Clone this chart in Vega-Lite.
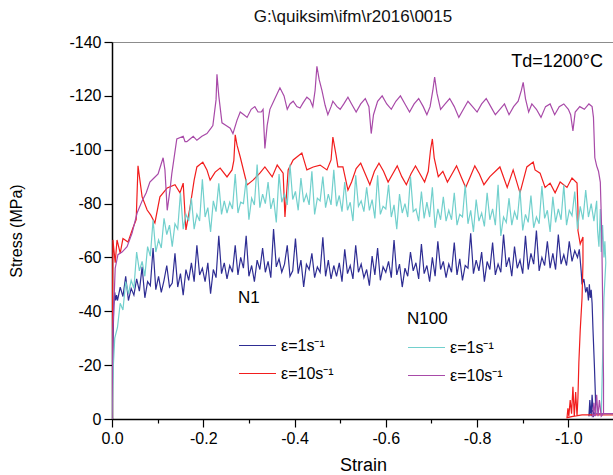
{
  "$schema": "https://vega.github.io/schema/vega-lite/v6.json",
  "width": 502,
  "height": 377,
  "autosize": "none",
  "padding": {"left": 112, "top": 42, "right": 0, "bottom": 56},
  "background": "white",
  "title": {"text": "G:\\quiksim\\ifm\\r2016\\0015", "fontSize": 17, "font": "Liberation Sans", "fontWeight": "normal", "color": "#111111", "offset": 8, "dx": -10},
  "config": {"view": {"stroke": "#8c8c8c", "strokeWidth": 1}, "font": "Liberation Sans"},
  "datasets": {
    "n1": [
      {"r":"1","x":0,"y":0},{"r":"1","x":-0.002,"y":-28},{"r":"1","x":-0.004,"y":-42},{"r":"1","x":-0.006,"y":-47},{"r":"1","x":-0.008,"y":-44},{"r":"1","x":-0.010,"y":-46},
      {"r":"1","x":-0.012,"y":-44},{"r":"1","x":-0.018,"y":-49},{"r":"1","x":-0.024,"y":-45.5},{"r":"1","x":-0.030,"y":-53},{"r":"1","x":-0.036,"y":-44},{"r":"1","x":-0.042,"y":-48.5},{"r":"1","x":-0.048,"y":-46},{"r":"1","x":-0.054,"y":-52},{"r":"1","x":-0.060,"y":-47.5},{"r":"1","x":-0.066,"y":-56.5},
      {"r":"1","x":-0.072,"y":-45},{"r":"1","x":-0.078,"y":-51},{"r":"1","x":-0.084,"y":-49.5},{"r":"1","x":-0.090,"y":-63.5},{"r":"1","x":-0.096,"y":-48},{"r":"1","x":-0.102,"y":-53},{"r":"1","x":-0.108,"y":-47},{"r":"1","x":-0.114,"y":-51.5},{"r":"1","x":-0.120,"y":-57},{"r":"1","x":-0.126,"y":-49},
      {"r":"1","x":-0.132,"y":-50.5},{"r":"1","x":-0.138,"y":-61.5},{"r":"1","x":-0.144,"y":-49},{"r":"1","x":-0.150,"y":-54},{"r":"1","x":-0.156,"y":-46},{"r":"1","x":-0.162,"y":-55.5},{"r":"1","x":-0.168,"y":-51.5},{"r":"1","x":-0.174,"y":-58},{"r":"1","x":-0.180,"y":-51},{"r":"1","x":-0.186,"y":-64.5},
      {"r":"1","x":-0.192,"y":-53.5},{"r":"1","x":-0.198,"y":-56},{"r":"1","x":-0.204,"y":-51},{"r":"1","x":-0.210,"y":-58},{"r":"1","x":-0.216,"y":-46.5},{"r":"1","x":-0.222,"y":-55.5},{"r":"1","x":-0.228,"y":-52.5},{"r":"1","x":-0.234,"y":-68},{"r":"1","x":-0.240,"y":-54},{"r":"1","x":-0.246,"y":-58},
      {"r":"1","x":-0.252,"y":-52},{"r":"1","x":-0.258,"y":-57},{"r":"1","x":-0.264,"y":-54.5},{"r":"1","x":-0.270,"y":-64.5},{"r":"1","x":-0.276,"y":-53.5},{"r":"1","x":-0.282,"y":-60},{"r":"1","x":-0.288,"y":-56},{"r":"1","x":-0.294,"y":-68},{"r":"1","x":-0.300,"y":-53},{"r":"1","x":-0.306,"y":-57},
      {"r":"1","x":-0.312,"y":-51},{"r":"1","x":-0.318,"y":-59},{"r":"1","x":-0.324,"y":-55.5},{"r":"1","x":-0.330,"y":-63.5},{"r":"1","x":-0.336,"y":-54.5},{"r":"1","x":-0.342,"y":-58.5},{"r":"1","x":-0.348,"y":-52.5},{"r":"1","x":-0.354,"y":-70.5},{"r":"1","x":-0.360,"y":-56.5},{"r":"1","x":-0.366,"y":-59.5},
      {"r":"1","x":-0.372,"y":-54.5},{"r":"1","x":-0.378,"y":-57.5},{"r":"1","x":-0.384,"y":-64.5},{"r":"1","x":-0.390,"y":-53},{"r":"1","x":-0.396,"y":-55},{"r":"1","x":-0.402,"y":-67},{"r":"1","x":-0.408,"y":-54},{"r":"1","x":-0.414,"y":-59},{"r":"1","x":-0.420,"y":-49},{"r":"1","x":-0.426,"y":-57.5},
      {"r":"1","x":-0.432,"y":-55.5},{"r":"1","x":-0.438,"y":-61.5},{"r":"1","x":-0.444,"y":-52.5},{"r":"1","x":-0.450,"y":-56.5},{"r":"1","x":-0.456,"y":-54.5},{"r":"1","x":-0.462,"y":-67.5},{"r":"1","x":-0.468,"y":-53},{"r":"1","x":-0.474,"y":-59},{"r":"1","x":-0.480,"y":-52},{"r":"1","x":-0.486,"y":-57},
      {"r":"1","x":-0.492,"y":-53},{"r":"1","x":-0.498,"y":-58},{"r":"1","x":-0.504,"y":-51},{"r":"1","x":-0.510,"y":-63},{"r":"1","x":-0.516,"y":-54},{"r":"1","x":-0.522,"y":-57},{"r":"1","x":-0.528,"y":-52},{"r":"1","x":-0.534,"y":-64.5},{"r":"1","x":-0.540,"y":-54.5},{"r":"1","x":-0.546,"y":-57.5},
      {"r":"1","x":-0.552,"y":-52.5},{"r":"1","x":-0.558,"y":-55.5},{"r":"1","x":-0.564,"y":-49.5},{"r":"1","x":-0.570,"y":-60.5},{"r":"1","x":-0.576,"y":-53.5},{"r":"1","x":-0.582,"y":-63.5},{"r":"1","x":-0.588,"y":-51.5},{"r":"1","x":-0.594,"y":-56.5},{"r":"1","x":-0.600,"y":-54.5},{"r":"1","x":-0.606,"y":-58.5},
      {"r":"1","x":-0.612,"y":-52.5},{"r":"1","x":-0.618,"y":-66.5},{"r":"1","x":-0.624,"y":-53.5},{"r":"1","x":-0.630,"y":-57.5},{"r":"1","x":-0.636,"y":-49},{"r":"1","x":-0.642,"y":-56},{"r":"1","x":-0.648,"y":-53},{"r":"1","x":-0.654,"y":-62},{"r":"1","x":-0.660,"y":-55},{"r":"1","x":-0.666,"y":-58},
      {"r":"1","x":-0.672,"y":-52},{"r":"1","x":-0.678,"y":-65},{"r":"1","x":-0.684,"y":-54},{"r":"1","x":-0.690,"y":-57},{"r":"1","x":-0.696,"y":-51},{"r":"1","x":-0.702,"y":-60},{"r":"1","x":-0.708,"y":-53},{"r":"1","x":-0.714,"y":-66},{"r":"1","x":-0.720,"y":-55.5},{"r":"1","x":-0.726,"y":-58.5},
      {"r":"1","x":-0.732,"y":-52.5},{"r":"1","x":-0.738,"y":-57.5},{"r":"1","x":-0.744,"y":-54.5},{"r":"1","x":-0.750,"y":-65.5},{"r":"1","x":-0.756,"y":-53.5},{"r":"1","x":-0.762,"y":-59.5},{"r":"1","x":-0.768,"y":-51.5},{"r":"1","x":-0.774,"y":-57},{"r":"1","x":-0.780,"y":-56},{"r":"1","x":-0.786,"y":-69},
      {"r":"1","x":-0.792,"y":-54},{"r":"1","x":-0.798,"y":-59},{"r":"1","x":-0.804,"y":-55},{"r":"1","x":-0.810,"y":-62},{"r":"1","x":-0.816,"y":-51},{"r":"1","x":-0.822,"y":-58.5},{"r":"1","x":-0.828,"y":-55.5},{"r":"1","x":-0.834,"y":-65.5},{"r":"1","x":-0.840,"y":-53.5},{"r":"1","x":-0.846,"y":-57.5},
      {"r":"1","x":-0.852,"y":-54.5},{"r":"1","x":-0.858,"y":-68.5},{"r":"1","x":-0.864,"y":-56.5},{"r":"1","x":-0.870,"y":-60},{"r":"1","x":-0.876,"y":-53},{"r":"1","x":-0.882,"y":-64},{"r":"1","x":-0.888,"y":-56},{"r":"1","x":-0.894,"y":-59},{"r":"1","x":-0.900,"y":-54},{"r":"1","x":-0.906,"y":-68},
      {"r":"1","x":-0.912,"y":-55.5},{"r":"1","x":-0.918,"y":-61.5},{"r":"1","x":-0.924,"y":-57.5},{"r":"1","x":-0.930,"y":-70},{"r":"1","x":-0.936,"y":-55},{"r":"1","x":-0.942,"y":-60},{"r":"1","x":-0.948,"y":-57},{"r":"1","x":-0.954,"y":-66},{"r":"1","x":-0.960,"y":-56},{"r":"1","x":-0.966,"y":-61.5},
      {"r":"1","x":-0.972,"y":-55.5},{"r":"1","x":-0.978,"y":-68.5},{"r":"1","x":-0.984,"y":-57.5},{"r":"1","x":-0.990,"y":-61},{"r":"1","x":-0.996,"y":-57},{"r":"1","x":-1.002,"y":-66},{"r":"1","x":-1.008,"y":-58.5},{"r":"1","x":-1.014,"y":-62.5},{"r":"1","x":-1.020,"y":-60},
      {"r":"1","x":-1.024,"y":-63},{"r":"1","x":-1.028,"y":-55},{"r":"1","x":-1.030,"y":-50},{"r":"1","x":-1.034,"y":-52},{"r":"1","x":-1.038,"y":-47},{"r":"1","x":-1.041,"y":-49},{"r":"1","x":-1.044,"y":-44},{"r":"1","x":-1.046,"y":-50},{"r":"1","x":-1.048,"y":-45},{"r":"1","x":-1.050,"y":-48},{"r":"1","x":-1.052,"y":-43},{"r":"1","x":-1.054,"y":-33},{"r":"1","x":-1.057,"y":-20},{"r":"1","x":-1.059,"y":-10},{"r":"1","x":-1.060,"y":-2},{"r":"1","x":-1.055,"y":-1},{"r":"1","x":-1.052,"y":-9},{"r":"1","x":-1.050,"y":-1},{"r":"1","x":-1.047,"y":-7},{"r":"1","x":-1.045,"y":-1},{"r":"1","x":-1.048,"y":-4},{"r":"1","x":-1.060,"y":-1.5},

      {"r":"10","x":0,"y":0},{"r":"10","x":-0.002,"y":-66.5},{"r":"10","x":-0.007,"y":-58},{"r":"10","x":-0.011,"y":-66.5},{"r":"10","x":-0.018,"y":-61.6},{"r":"10","x":-0.024,"y":-67},{"r":"10","x":-0.035,"y":-65.7},{"r":"10","x":-0.046,"y":-71},{"r":"10","x":-0.053,"y":-74},{"r":"10","x":-0.057,"y":-94},
      {"r":"10","x":-0.066,"y":-82.5},{"r":"10","x":-0.077,"y":-77.6},{"r":"10","x":-0.085,"y":-75.7},{"r":"10","x":-0.094,"y":-72.8},{"r":"10","x":-0.105,"y":-82.5},{"r":"10","x":-0.121,"y":-85.8},{"r":"10","x":-0.138,"y":-87},{"r":"10","x":-0.149,"y":-84},{"r":"10","x":-0.156,"y":-87.6},{"r":"10","x":-0.162,"y":-70.2},
      {"r":"10","x":-0.171,"y":-78.7},{"r":"10","x":-0.180,"y":-88.7},{"r":"10","x":-0.186,"y":-93.6},{"r":"10","x":-0.199,"y":-95.4},{"r":"10","x":-0.208,"y":-92.5},{"r":"10","x":-0.215,"y":-88.7},{"r":"10","x":-0.226,"y":-91.7},{"r":"10","x":-0.237,"y":-93.2},{"r":"10","x":-0.252,"y":-89.9},{"r":"10","x":-0.263,"y":-92.5},
      {"r":"10","x":-0.267,"y":-96},{"r":"10","x":-0.270,"y":-105.5},{"r":"10","x":-0.274,"y":-101.7},{"r":"10","x":-0.281,"y":-97.3},{"r":"10","x":-0.296,"y":-86.9},{"r":"10","x":-0.309,"y":-88.7},{"r":"10","x":-0.324,"y":-91.3},{"r":"10","x":-0.335,"y":-93.6},{"r":"10","x":-0.351,"y":-89.9},{"r":"10","x":-0.362,"y":-94.3},
      {"r":"10","x":-0.375,"y":-91.3},{"r":"10","x":-0.379,"y":-75},{"r":"10","x":-0.386,"y":-92.5},{"r":"10","x":-0.397,"y":-96.2},{"r":"10","x":-0.416,"y":-98.8},{"r":"10","x":-0.427,"y":-92.5},{"r":"10","x":-0.441,"y":-93.6},{"r":"10","x":-0.456,"y":-94.3},{"r":"10","x":-0.471,"y":-92.5},{"r":"10","x":-0.480,"y":-96.2},
      {"r":"10","x":-0.484,"y":-104.7},{"r":"10","x":-0.491,"y":-98},{"r":"10","x":-0.495,"y":-93.6},{"r":"10","x":-0.506,"y":-93.6},{"r":"10","x":-0.517,"y":-85},{"r":"10","x":-0.525,"y":-88},{"r":"10","x":-0.535,"y":-93},{"r":"10","x":-0.545,"y":-95},{"r":"10","x":-0.555,"y":-91},{"r":"10","x":-0.565,"y":-87},
      {"r":"10","x":-0.575,"y":-92},{"r":"10","x":-0.585,"y":-95},{"r":"10","x":-0.595,"y":-92},{"r":"10","x":-0.605,"y":-88},{"r":"10","x":-0.615,"y":-91},{"r":"10","x":-0.625,"y":-94},{"r":"10","x":-0.635,"y":-90},{"r":"10","x":-0.645,"y":-87},{"r":"10","x":-0.655,"y":-91},{"r":"10","x":-0.665,"y":-94},
      {"r":"10","x":-0.675,"y":-91},{"r":"10","x":-0.685,"y":-88},{"r":"10","x":-0.693,"y":-92},{"r":"10","x":-0.698,"y":-100},{"r":"10","x":-0.702,"y":-104},{"r":"10","x":-0.706,"y":-97},{"r":"10","x":-0.715,"y":-90},{"r":"10","x":-0.725,"y":-92},{"r":"10","x":-0.735,"y":-88},{"r":"10","x":-0.745,"y":-91},
      {"r":"10","x":-0.755,"y":-94},{"r":"10","x":-0.765,"y":-90},{"r":"10","x":-0.775,"y":-86},{"r":"10","x":-0.785,"y":-90},{"r":"10","x":-0.795,"y":-94},{"r":"10","x":-0.805,"y":-91},{"r":"10","x":-0.815,"y":-87},{"r":"10","x":-0.828,"y":-90},{"r":"10","x":-0.850,"y":-93.6},{"r":"10","x":-0.866,"y":-86},
      {"r":"10","x":-0.879,"y":-92.5},{"r":"10","x":-0.894,"y":-84},{"r":"10","x":-0.909,"y":-93.6},{"r":"10","x":-0.923,"y":-95.4},{"r":"10","x":-0.927,"y":-92.5},{"r":"10","x":-0.938,"y":-91.3},{"r":"10","x":-0.949,"y":-86},{"r":"10","x":-0.960,"y":-87.6},{"r":"10","x":-0.971,"y":-84},{"r":"10","x":-0.982,"y":-88},
      {"r":"10","x":-0.997,"y":-86},{"r":"10","x":-1.008,"y":-89.5},{"r":"10","x":-1.019,"y":-87.6},{"r":"10","x":-1.021,"y":-77.6},{"r":"10","x":-1.021,"y":-70},{"r":"10","x":-1.026,"y":-65},{"r":"10","x":-1.032,"y":-67.6},{"r":"10","x":-1.032,"y":-58},{"r":"10","x":-1.030,"y":-45},{"r":"10","x":-1.026,"y":-33},
      {"r":"10","x":-1.023,"y":-21},{"r":"10","x":-1.021,"y":-8},{"r":"10","x":-1.019,"y":-1},{"r":"10","x":-1.016,"y":-10},{"r":"10","x":-1.013,"y":-1},{"r":"10","x":-1.010,"y":-12},{"r":"10","x":-1.007,"y":-2},{"r":"10","x":-1.004,"y":-7},{"r":"10","x":-1.001,"y":-1},{"r":"10","x":-0.999,"y":-4},
      {"r":"10","x":-0.997,"y":-0.5},{"r":"10","x":-1.010,"y":-1},{"r":"10","x":-1.030,"y":-1.5},{"r":"10","x":-1.060,"y":-1.5},{"r":"10","x":-1.100,"y":-1.5}
    ],
    "n100": [
      {"r":"1","x":0,"y":0},{"r":"1","x":-0.003,"y":-20},{"r":"1","x":-0.006,"y":-30},
      {"r":"1","x":-0.012,"y":-34},{"r":"1","x":-0.018,"y":-43},{"r":"1","x":-0.024,"y":-40.5},{"r":"1","x":-0.030,"y":-51},{"r":"1","x":-0.036,"y":-46.5},{"r":"1","x":-0.042,"y":-51.5},{"r":"1","x":-0.048,"y":-48.5},{"r":"1","x":-0.054,"y":-62},{"r":"1","x":-0.060,"y":-55},{"r":"1","x":-0.066,"y":-58.5},
      {"r":"1","x":-0.072,"y":-53},{"r":"1","x":-0.078,"y":-64},{"r":"1","x":-0.084,"y":-60.5},{"r":"1","x":-0.090,"y":-74},{"r":"1","x":-0.096,"y":-62},{"r":"1","x":-0.102,"y":-66.5},{"r":"1","x":-0.108,"y":-63.5},{"r":"1","x":-0.114,"y":-74.5},{"r":"1","x":-0.120,"y":-68.5},{"r":"1","x":-0.126,"y":-72},
      {"r":"1","x":-0.132,"y":-64},{"r":"1","x":-0.138,"y":-72.5},{"r":"1","x":-0.144,"y":-70.5},{"r":"1","x":-0.150,"y":-84},{"r":"1","x":-0.156,"y":-70.5},{"r":"1","x":-0.162,"y":-76},{"r":"1","x":-0.168,"y":-73.5},{"r":"1","x":-0.174,"y":-82},{"r":"1","x":-0.180,"y":-70.5},{"r":"1","x":-0.186,"y":-76},
      {"r":"1","x":-0.192,"y":-73.5},{"r":"1","x":-0.198,"y":-89},{"r":"1","x":-0.204,"y":-75},{"r":"1","x":-0.210,"y":-78.5},{"r":"1","x":-0.216,"y":-69.5},{"r":"1","x":-0.222,"y":-81},{"r":"1","x":-0.228,"y":-77},{"r":"1","x":-0.234,"y":-87.5},{"r":"1","x":-0.240,"y":-76},{"r":"1","x":-0.246,"y":-81},
      {"r":"1","x":-0.252,"y":-76.5},{"r":"1","x":-0.258,"y":-80.5},{"r":"1","x":-0.264,"y":-78},{"r":"1","x":-0.270,"y":-91},{"r":"1","x":-0.276,"y":-76.5},{"r":"1","x":-0.282,"y":-80.5},{"r":"1","x":-0.288,"y":-80},{"r":"1","x":-0.294,"y":-89},{"r":"1","x":-0.300,"y":-74},{"r":"1","x":-0.306,"y":-82},
      {"r":"1","x":-0.312,"y":-79.5},{"r":"1","x":-0.318,"y":-94.5},{"r":"1","x":-0.324,"y":-78.5},{"r":"1","x":-0.330,"y":-83.5},{"r":"1","x":-0.336,"y":-80},{"r":"1","x":-0.342,"y":-88},{"r":"1","x":-0.348,"y":-78},{"r":"1","x":-0.354,"y":-82},{"r":"1","x":-0.360,"y":-73},{"r":"1","x":-0.366,"y":-91},
      {"r":"1","x":-0.372,"y":-80.5},{"r":"1","x":-0.378,"y":-83.5},{"r":"1","x":-0.384,"y":-79.5},{"r":"1","x":-0.390,"y":-94.5},{"r":"1","x":-0.396,"y":-81.5},{"r":"1","x":-0.402,"y":-84.5},{"r":"1","x":-0.408,"y":-77.5},{"r":"1","x":-0.414,"y":-89.5},{"r":"1","x":-0.420,"y":-80.5},{"r":"1","x":-0.426,"y":-83.5},
      {"r":"1","x":-0.432,"y":-79.5},{"r":"1","x":-0.438,"y":-92},{"r":"1","x":-0.444,"y":-76},{"r":"1","x":-0.450,"y":-82},{"r":"1","x":-0.456,"y":-81},{"r":"1","x":-0.462,"y":-90},{"r":"1","x":-0.468,"y":-78.5},{"r":"1","x":-0.474,"y":-83.5},{"r":"1","x":-0.480,"y":-79.5},{"r":"1","x":-0.486,"y":-92.5},
      {"r":"1","x":-0.492,"y":-79},{"r":"1","x":-0.498,"y":-83},{"r":"1","x":-0.504,"y":-77},{"r":"1","x":-0.510,"y":-88},{"r":"1","x":-0.516,"y":-77.5},{"r":"1","x":-0.522,"y":-80.5},{"r":"1","x":-0.528,"y":-73.5},{"r":"1","x":-0.534,"y":-90.5},{"r":"1","x":-0.540,"y":-79},{"r":"1","x":-0.546,"y":-81},
      {"r":"1","x":-0.552,"y":-77},{"r":"1","x":-0.558,"y":-86},{"r":"1","x":-0.564,"y":-77.5},{"r":"1","x":-0.570,"y":-81.5},{"r":"1","x":-0.576,"y":-74.5},{"r":"1","x":-0.582,"y":-90.5},{"r":"1","x":-0.588,"y":-76},{"r":"1","x":-0.594,"y":-79},{"r":"1","x":-0.600,"y":-78},{"r":"1","x":-0.606,"y":-87},
      {"r":"1","x":-0.612,"y":-75},{"r":"1","x":-0.618,"y":-79.5},{"r":"1","x":-0.624,"y":-70.5},{"r":"1","x":-0.630,"y":-83.5},{"r":"1","x":-0.636,"y":-76.5},{"r":"1","x":-0.642,"y":-80},{"r":"1","x":-0.648,"y":-75},{"r":"1","x":-0.654,"y":-90},{"r":"1","x":-0.660,"y":-77},{"r":"1","x":-0.666,"y":-78},
      {"r":"1","x":-0.672,"y":-73.5},{"r":"1","x":-0.678,"y":-84.5},{"r":"1","x":-0.684,"y":-74.5},{"r":"1","x":-0.690,"y":-80.5},{"r":"1","x":-0.696,"y":-75},{"r":"1","x":-0.702,"y":-86},{"r":"1","x":-0.708,"y":-71},{"r":"1","x":-0.714,"y":-78},{"r":"1","x":-0.720,"y":-74},{"r":"1","x":-0.726,"y":-82.5},
      {"r":"1","x":-0.732,"y":-73.5},{"r":"1","x":-0.738,"y":-77.5},{"r":"1","x":-0.744,"y":-74},{"r":"1","x":-0.750,"y":-84},{"r":"1","x":-0.756,"y":-72},{"r":"1","x":-0.762,"y":-76},{"r":"1","x":-0.768,"y":-75},{"r":"1","x":-0.774,"y":-87},{"r":"1","x":-0.780,"y":-72.5},{"r":"1","x":-0.786,"y":-77.5},
      {"r":"1","x":-0.792,"y":-69.5},{"r":"1","x":-0.798,"y":-81.5},{"r":"1","x":-0.804,"y":-73.5},{"r":"1","x":-0.810,"y":-76.5},{"r":"1","x":-0.816,"y":-71.5},{"r":"1","x":-0.822,"y":-84},{"r":"1","x":-0.828,"y":-74},{"r":"1","x":-0.834,"y":-78},{"r":"1","x":-0.840,"y":-72},{"r":"1","x":-0.846,"y":-87},
      {"r":"1","x":-0.852,"y":-68},{"r":"1","x":-0.858,"y":-75},{"r":"1","x":-0.864,"y":-73},{"r":"1","x":-0.870,"y":-82},{"r":"1","x":-0.876,"y":-72},{"r":"1","x":-0.882,"y":-77},{"r":"1","x":-0.888,"y":-74},{"r":"1","x":-0.894,"y":-85},{"r":"1","x":-0.900,"y":-70},{"r":"1","x":-0.906,"y":-76},
      {"r":"1","x":-0.912,"y":-73},{"r":"1","x":-0.918,"y":-83},{"r":"1","x":-0.924,"y":-71},{"r":"1","x":-0.930,"y":-75},{"r":"1","x":-0.936,"y":-72.5},{"r":"1","x":-0.942,"y":-86.5},{"r":"1","x":-0.948,"y":-74.5},{"r":"1","x":-0.954,"y":-77.5},{"r":"1","x":-0.960,"y":-69.5},{"r":"1","x":-0.966,"y":-82.5},
      {"r":"1","x":-0.972,"y":-73},{"r":"1","x":-0.978,"y":-78},{"r":"1","x":-0.984,"y":-74},{"r":"1","x":-0.990,"y":-87},{"r":"1","x":-0.996,"y":-72},{"r":"1","x":-1.002,"y":-77.5},{"r":"1","x":-1.008,"y":-75.5},{"r":"1","x":-1.014,"y":-84.5},{"r":"1","x":-1.020,"y":-70.5},{"r":"1","x":-1.026,"y":-79},
      {"r":"1","x":-1.032,"y":-74},{"r":"1","x":-1.038,"y":-85},{"r":"1","x":-1.044,"y":-75},{"r":"1","x":-1.050,"y":-80},{"r":"1","x":-1.056,"y":-73.5},{"r":"1","x":-1.062,"y":-81},
      {"r":"1","x":-1.064,"y":-70},{"r":"1","x":-1.067,"y":-64},{"r":"1","x":-1.070,"y":-78},{"r":"1","x":-1.072,"y":-62},{"r":"1","x":-1.075,"y":-72},{"r":"1","x":-1.078,"y":-60},{"r":"1","x":-1.080,"y":-66},{"r":"1","x":-1.082,"y":-58},{"r":"1","x":-1.078,"y":-45},{"r":"1","x":-1.076,"y":-30},{"r":"1","x":-1.074,"y":-15},{"r":"1","x":-1.072,"y":-2},{"r":"1","x":-1.080,"y":-2},{"r":"1","x":-1.090,"y":-2},{"r":"1","x":-1.100,"y":-2},

      {"r":"10","x":0,"y":0},{"r":"10","x":-0.002,"y":-33},{"r":"10","x":-0.007,"y":-56},{"r":"10","x":-0.013,"y":-61},{"r":"10","x":-0.022,"y":-62},{"r":"10","x":-0.033,"y":-64},{"r":"10","x":-0.044,"y":-69},{"r":"10","x":-0.055,"y":-76.5},{"r":"10","x":-0.066,"y":-81},{"r":"10","x":-0.075,"y":-84},
      {"r":"10","x":-0.083,"y":-88},{"r":"10","x":-0.092,"y":-89.5},{"r":"10","x":-0.101,"y":-91},{"r":"10","x":-0.112,"y":-97},{"r":"10","x":-0.116,"y":-92.5},{"r":"10","x":-0.121,"y":-77.5},{"r":"10","x":-0.127,"y":-85},{"r":"10","x":-0.131,"y":-91},{"r":"10","x":-0.142,"y":-104},{"r":"10","x":-0.156,"y":-105},
      {"r":"10","x":-0.160,"y":-103},{"r":"10","x":-0.164,"y":-103},{"r":"10","x":-0.171,"y":-104},{"r":"10","x":-0.178,"y":-105},{"r":"10","x":-0.186,"y":-103.5},{"r":"10","x":-0.197,"y":-105},{"r":"10","x":-0.208,"y":-106},{"r":"10","x":-0.217,"y":-108},{"r":"10","x":-0.221,"y":-109},{"r":"10","x":-0.228,"y":-118.5},
      {"r":"10","x":-0.230,"y":-128},{"r":"10","x":-0.234,"y":-120},{"r":"10","x":-0.241,"y":-110},{"r":"10","x":-0.250,"y":-109},{"r":"10","x":-0.259,"y":-108},{"r":"10","x":-0.265,"y":-106},{"r":"10","x":-0.274,"y":-111},{"r":"10","x":-0.281,"y":-114},{"r":"10","x":-0.289,"y":-113},{"r":"10","x":-0.296,"y":-112},
      {"r":"10","x":-0.305,"y":-115},{"r":"10","x":-0.313,"y":-116},{"r":"10","x":-0.320,"y":-114},{"r":"10","x":-0.327,"y":-114},{"r":"10","x":-0.331,"y":-115},{"r":"10","x":-0.335,"y":-100.5},{"r":"10","x":-0.340,"y":-109},{"r":"10","x":-0.346,"y":-115},{"r":"10","x":-0.357,"y":-119},{"r":"10","x":-0.368,"y":-123},
      {"r":"10","x":-0.377,"y":-120},{"r":"10","x":-0.384,"y":-115},{"r":"10","x":-0.390,"y":-117},{"r":"10","x":-0.397,"y":-118},{"r":"10","x":-0.405,"y":-116},{"r":"10","x":-0.412,"y":-115.5},{"r":"10","x":-0.419,"y":-117.5},{"r":"10","x":-0.427,"y":-119.5},{"r":"10","x":-0.434,"y":-118.5},{"r":"10","x":-0.440,"y":-116},
      {"r":"10","x":-0.445,"y":-122},{"r":"10","x":-0.449,"y":-131},{"r":"10","x":-0.454,"y":-126},{"r":"10","x":-0.460,"y":-122},{"r":"10","x":-0.467,"y":-116.5},{"r":"10","x":-0.473,"y":-113},{"r":"10","x":-0.480,"y":-116},{"r":"10","x":-0.484,"y":-118},{"r":"10","x":-0.493,"y":-116},{"r":"10","x":-0.500,"y":-115},
      {"r":"10","x":-0.508,"y":-117},{"r":"10","x":-0.517,"y":-119.5},{"r":"10","x":-0.525,"y":-117},{"r":"10","x":-0.535,"y":-114},{"r":"10","x":-0.545,"y":-117},{"r":"10","x":-0.555,"y":-119},{"r":"10","x":-0.563,"y":-116},{"r":"10","x":-0.568,"y":-106},{"r":"10","x":-0.573,"y":-113},{"r":"10","x":-0.582,"y":-118},
      {"r":"10","x":-0.592,"y":-120},{"r":"10","x":-0.602,"y":-117},{"r":"10","x":-0.612,"y":-115},{"r":"10","x":-0.622,"y":-118},{"r":"10","x":-0.632,"y":-120},{"r":"10","x":-0.642,"y":-117},{"r":"10","x":-0.652,"y":-114},{"r":"10","x":-0.662,"y":-117},{"r":"10","x":-0.672,"y":-119},{"r":"10","x":-0.682,"y":-116},
      {"r":"10","x":-0.690,"y":-113},{"r":"10","x":-0.697,"y":-116},{"r":"10","x":-0.703,"y":-122},{"r":"10","x":-0.707,"y":-127},{"r":"10","x":-0.712,"y":-121},{"r":"10","x":-0.720,"y":-115},{"r":"10","x":-0.730,"y":-117},{"r":"10","x":-0.740,"y":-119},{"r":"10","x":-0.750,"y":-116},{"r":"10","x":-0.760,"y":-112},
      {"r":"10","x":-0.770,"y":-115},{"r":"10","x":-0.780,"y":-118},{"r":"10","x":-0.790,"y":-116},{"r":"10","x":-0.800,"y":-114},{"r":"10","x":-0.810,"y":-117},{"r":"10","x":-0.820,"y":-119},{"r":"10","x":-0.830,"y":-116},{"r":"10","x":-0.840,"y":-113},{"r":"10","x":-0.850,"y":-115},{"r":"10","x":-0.860,"y":-117},
      {"r":"10","x":-0.870,"y":-113},{"r":"10","x":-0.880,"y":-116},{"r":"10","x":-0.890,"y":-118},{"r":"10","x":-0.897,"y":-122},{"r":"10","x":-0.901,"y":-125},{"r":"10","x":-0.906,"y":-119},{"r":"10","x":-0.913,"y":-114},{"r":"10","x":-0.920,"y":-117},{"r":"10","x":-0.930,"y":-115},{"r":"10","x":-0.940,"y":-112},
      {"r":"10","x":-0.950,"y":-116},{"r":"10","x":-0.960,"y":-117},{"r":"10","x":-0.970,"y":-113},{"r":"10","x":-0.980,"y":-116},{"r":"10","x":-0.990,"y":-117},{"r":"10","x":-1.000,"y":-115},{"r":"10","x":-1.005,"y":-113},{"r":"10","x":-1.010,"y":-107},{"r":"10","x":-1.015,"y":-114},{"r":"10","x":-1.025,"y":-116},
      {"r":"10","x":-1.035,"y":-115},{"r":"10","x":-1.045,"y":-117},{"r":"10","x":-1.052,"y":-116},{"r":"10","x":-1.055,"y":-112},{"r":"10","x":-1.058,"y":-97},{"r":"10","x":-1.062,"y":-94},{"r":"10","x":-1.066,"y":-92},{"r":"10","x":-1.070,"y":-88},{"r":"10","x":-1.073,"y":-70},{"r":"10","x":-1.075,"y":-45},
      {"r":"10","x":-1.077,"y":-15},{"r":"10","x":-1.077,"y":-2},{"r":"10","x":-1.072,"y":-1},{"r":"10","x":-1.068,"y":-7},{"r":"10","x":-1.065,"y":-1},{"r":"10","x":-1.062,"y":-9},{"r":"10","x":-1.059,"y":-1},{"r":"10","x":-1.056,"y":-6},{"r":"10","x":-1.053,"y":-1},{"r":"10","x":-1.060,"y":-2},
      {"r":"10","x":-1.080,"y":-2},{"r":"10","x":-1.100,"y":-2}
    ]
  },
  "layer": [
    {
      "data": {"name": "n1"},
      "mark": {"type": "line", "strokeWidth": 1.2, "clip": true},
      "encoding": {
        "x": {
          "field": "x", "type": "quantitative", "title": "Strain",
          "scale": {"domain": [0, -1.1], "nice": false, "zero": false},
          "axis": {
            "values": [0, -0.1, -0.2, -0.3, -0.4, -0.5, -0.6, -0.7, -0.8, -0.9, -1.0, -1.1],
            "labelExpr": "round(abs(datum.value)*10) % 2 == 0 ? (datum.value < 0 ? '-' : '') + format(abs(datum.value), '.1f') : ''",
            "tickSize": {"condition": {"test": "round(abs(datum.value)*10) % 2 == 0", "value": 8}, "value": 4},
            "grid": false, "domainColor": "#000000", "domainWidth": 1.5, "tickColor": "#000000", "tickWidth": 1.2,
            "labelFontSize": 16, "labelColor": "#000000", "labelPadding": 3, "labelFlush": false, "labelOverlap": false,
            "titleFontSize": 18, "titleFontWeight": "normal", "titleColor": "#000000", "titlePadding": 10
          }
        },
        "y": {
          "field": "y", "type": "quantitative", "title": "Stress (MPa)",
          "scale": {"domain": [0, -140], "nice": false, "zero": false},
          "axis": {
            "values": [0, -10, -20, -30, -40, -50, -60, -70, -80, -90, -100, -110, -120, -130, -140],
            "labelExpr": "datum.value % 20 == 0 ? (datum.value < 0 ? '-' : '') + format(abs(datum.value), 'd') : ''",
            "tickSize": {"condition": {"test": "datum.value % 20 == 0", "value": 8}, "value": 4},
            "grid": false, "domainColor": "#000000", "domainWidth": 1.5, "tickColor": "#000000", "tickWidth": 1.2,
            "labelFontSize": 16, "labelColor": "#000000", "labelPadding": 3, "labelOverlap": false,
            "titleFontSize": 16, "titleFontWeight": "normal", "titleColor": "#000000", "titlePadding": 44
          }
        },
        "color": {
          "field": "r", "type": "nominal",
          "scale": {"domain": ["1", "10"], "range": ["#2e2d93", "#f21d1d"]},
          "legend": {
            "title": "N1", "orient": "none", "legendX": 126, "legendY": 248,
            "labelExpr": "'ε=' + datum.label + 's⁻¹'",
            "symbolType": "stroke", "symbolSize": 1369, "symbolStrokeWidth": 1.2,
            "labelFontSize": 16, "labelColor": "#000000", "labelOffset": 4,
            "titleFontSize": 17, "titleFontWeight": "normal", "titleColor": "#000000", "titlePadding": 19,
            "rowPadding": -18, "padding": 0
          }
        },
        "order": {"value": null}
      }
    },
    {
      "data": {"name": "n100"},
      "mark": {"type": "line", "strokeWidth": 1.2, "clip": true},
      "encoding": {
        "x": {"field": "x", "type": "quantitative"},
        "y": {"field": "y", "type": "quantitative"},
        "color": {
          "field": "r", "type": "nominal",
          "scale": {"domain": ["1", "10"], "range": ["#72d0cd", "#a84aa8"]},
          "legend": {
            "title": "N100", "orient": "none", "legendX": 295, "legendY": 269,
            "labelExpr": "'ε=' + datum.label + 's⁻¹'",
            "symbolType": "stroke", "symbolSize": 1369, "symbolStrokeWidth": 1.2,
            "labelFontSize": 16, "labelColor": "#000000", "labelOffset": 4,
            "titleFontSize": 17, "titleFontWeight": "normal", "titleColor": "#000000", "titlePadding": 0,
            "rowPadding": -18, "padding": 0
          }
        },
        "order": {"value": null}
      }
    },
    {
      "data": {"values": [{}]},
      "mark": {"type": "text", "align": "right", "baseline": "middle", "fontSize": 18, "font": "Liberation Sans", "color": "#000000"},
      "encoding": {
        "x": {"datum": -1.076},
        "y": {"datum": -132.5},
        "text": {"value": "Td=1200°C"}
      }
    }
  ],
  "resolve": {"scale": {"color": "independent"}}
}
